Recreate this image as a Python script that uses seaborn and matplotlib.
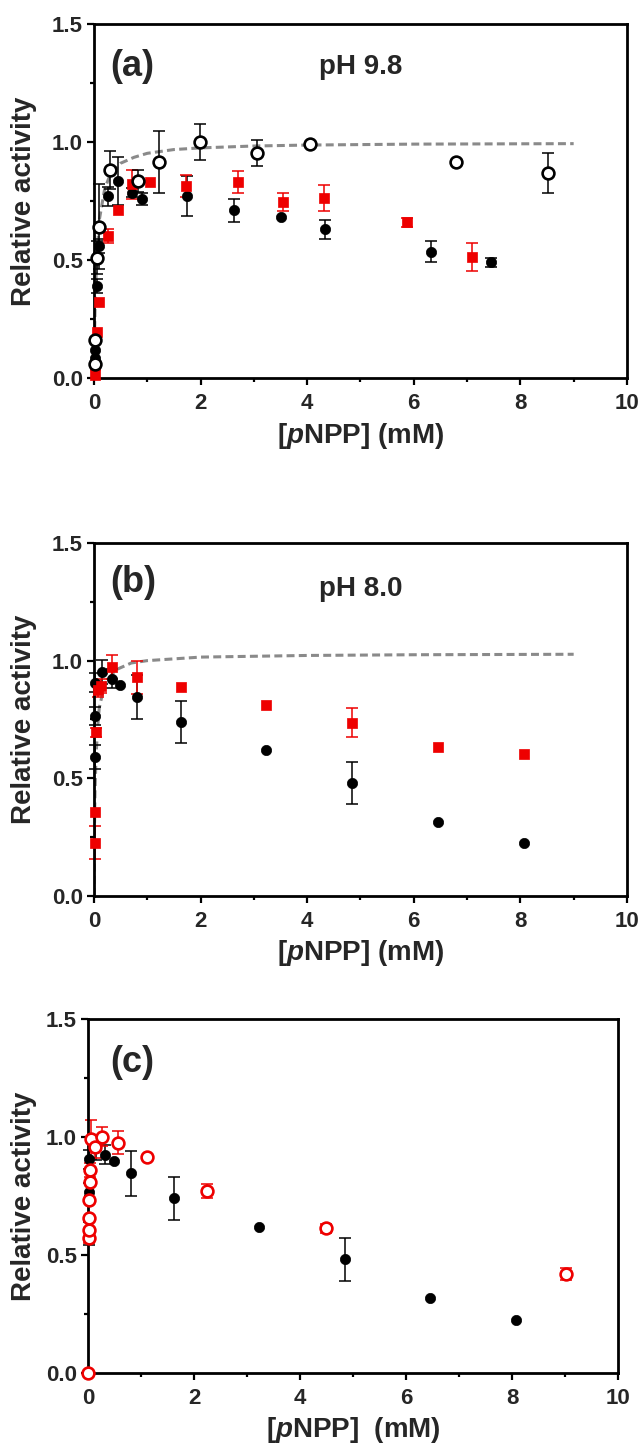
import numpy as np
import matplotlib
matplotlib.use("Agg")
import matplotlib.pyplot as plt
from matplotlib.ticker import MultipleLocator
import seaborn as sns

# panel (a), pH 9.8
a_open_x = [0.01, 0.01, 0.05, 0.10, 0.31, 0.82, 1.22, 1.98, 3.06, 4.05, 6.79, 8.52]
a_open_y = [0.06, 0.16, 0.51, 0.64, 0.88, 0.835, 0.915, 1.0, 0.955, 0.99, 0.915, 0.868]
a_open_err = [0, 0, 0.07, 0.18, 0.08, 0.045, 0.13, 0.075, 0.055, 0, 0, 0.086]

a_fill_x = [0.01, 0.01, 0.06, 0.09, 0.27, 0.45, 0.71, 0.90, 1.75, 2.62, 3.50, 4.33, 6.32, 7.45]
a_fill_y = [0.085, 0.118, 0.39, 0.56, 0.77, 0.835, 0.786, 0.76, 0.772, 0.71, 0.684, 0.63, 0.536, 0.49]
a_fill_err = [0, 0, 0.03, 0.03, 0.04, 0.1, 0.02, 0.025, 0.085, 0.05, 0, 0.04, 0.045, 0.02]

a_sq_x = [0.01, 0.01, 0.05, 0.09, 0.27, 0.45, 0.71, 1.06, 1.73, 2.71, 3.54, 4.31, 5.88, 7.09]
a_sq_y = [0.013, 0.055, 0.196, 0.323, 0.60, 0.713, 0.82, 0.832, 0.814, 0.83, 0.745, 0.762, 0.659, 0.512]
a_sq_err = [0, 0, 0, 0, 0.03, 0, 0.06, 0, 0.045, 0.047, 0.038, 0.055, 0.02, 0.06]

fit_a_x = [0, 0.01, 0.02, 0.05, 0.1, 0.2, 0.3, 0.5, 0.75, 1, 1.5, 2, 3, 4, 6, 9]
fit_a_y = [0, 0.17, 0.29, 0.5, 0.67, 0.8, 0.86, 0.91, 0.935, 0.952, 0.968, 0.975, 0.983, 0.987, 0.991, 0.993]

# panel (b), pH 8.0 (black circles also shown in panel c)
b_fill_x = [0.01, 0.01, 0.01, 0.16, 0.33, 0.49, 0.81, 1.63, 3.23, 4.85, 6.46, 8.07]
b_fill_y = [0.59, 0.765, 0.906, 0.952, 0.924, 0.896, 0.846, 0.74, 0.62, 0.481, 0.316, 0.226]
b_fill_err = [0.05, 0.04, 0.04, 0.05, 0.04, 0, 0.095, 0.09, 0, 0.09, 0, 0]

b_sq_x = [0.01, 0.02, 0.03, 0.07, 0.14, 0.34, 0.81, 1.63, 3.23, 4.85, 6.46, 8.07]
b_sq_y = [0.226, 0.355, 0.695, 0.875, 0.893, 0.974, 0.929, 0.889, 0.811, 0.737, 0.634, 0.603]
b_sq_err = [0.07, 0, 0.02, 0.03, 0.03, 0.05, 0.07, 0, 0, 0.06, 0, 0]

fit_b_x = [0, 0.005, 0.01, 0.02, 0.04, 0.07, 0.1, 0.2, 0.4, 0.7, 1, 2, 4, 6, 9]
fit_b_y = [0, 0.15, 0.3, 0.45, 0.6, 0.72, 0.8, 0.9, 0.96, 0.99, 1.0, 1.015, 1.022, 1.025, 1.027]

# panel (c), red open circles
c_open_x = [0.0, 0.01, 0.01, 0.02, 0.02, 0.03, 0.04, 0.06, 0.13, 0.27, 0.56, 1.12, 2.24, 4.5, 9.01]
c_open_y = [0.0, 0.571, 0.606, 0.655, 0.733, 0.808, 0.86, 0.99, 0.959, 1.0, 0.976, 0.917, 0.771, 0.613, 0.42]
c_open_err = [0, 0.02, 0, 0, 0, 0, 0.03, 0.08, 0.05, 0.04, 0.05, 0, 0.03, 0.02, 0.025]

RED = "#ee0000"
GREY = "#8a8a8a"

sns.set_theme(style="ticks")
plt.rcParams["font.family"] = ["Liberation Sans", "DejaVu Sans"]
plt.rcParams["font.weight"] = "bold"
plt.rcParams["mathtext.fontset"] = "custom"
plt.rcParams["mathtext.it"] = "Liberation Sans:italic:bold"
plt.rcParams["mathtext.rm"] = "Liberation Sans:bold"


def err(ax, x, y, e, color):
    x, y, e = np.array(x), np.array(y), np.array(e)
    m = e > 0
    ax.errorbar(x[m], y[m], yerr=e[m], fmt="none", ecolor=color, elinewidth=1.1,
                capsize=4, capthick=1.1, zorder=2, clip_on=False)


def fit_line(ax, x, y):
    sns.lineplot(x=x, y=y, ax=ax, color=GREY, linewidth=2.2, sort=False,
                 estimator=None, zorder=1)
    ax.lines[-1].set_dashes([2.6, 1.4])


def filled(ax, x, y, e):
    err(ax, x, y, e, "black")
    sns.scatterplot(x=x, y=y, ax=ax, marker="o", s=55, color="black",
                    edgecolor="black", linewidth=0.5, zorder=3, clip_on=False)


def squares(ax, x, y, e):
    err(ax, x, y, e, RED)
    sns.scatterplot(x=x, y=y, ax=ax, marker="s", s=55, color=RED,
                    edgecolor=RED, linewidth=0.5, zorder=4, clip_on=False)


def hollow(ax, x, y, e, color):
    err(ax, x, y, e, color)
    sns.scatterplot(x=x, y=y, ax=ax, marker="o", s=72, color="white",
                    edgecolor=color, linewidth=1.9, zorder=5, clip_on=False)


def style(ax, xlabel, ylab_x):
    ax.set_xlim(0, 10)
    ax.set_ylim(0, 1.5)
    ax.xaxis.set_major_locator(MultipleLocator(2))
    ax.xaxis.set_minor_locator(MultipleLocator(1))
    ax.yaxis.set_major_locator(MultipleLocator(0.5))
    ax.yaxis.set_minor_locator(MultipleLocator(0.25))
    ax.yaxis.set_major_formatter(matplotlib.ticker.FormatStrFormatter("%.1f"))
    for s in ax.spines.values():
        s.set_linewidth(2)
        s.set_color("black")
    ax.tick_params(which="both", direction="out", width=1.6, color="black",
                   top=False, right=False, labelsize=16)
    ax.tick_params(which="major", length=5)
    ax.tick_params(which="minor", length=3)
    ax.tick_params(axis="x", pad=6)
    ax.tick_params(axis="y", pad=3)
    for lab in ax.get_xticklabels() + ax.get_yticklabels():
        lab.set_fontweight("bold")
    ax.set_xlabel(xlabel, fontsize=20, fontweight="bold")
    ax.set_ylabel("Relative activity", fontsize=20, fontweight="bold")
    ax.xaxis.set_label_coords(0.5, -0.12)
    ax.yaxis.set_label_coords(ylab_x, 0.5)
    ax.set_facecolor("white")


fig = plt.figure(figsize=(6.41, 14.44), dpi=100)
ax_a = fig.add_axes([0.1466, 0.7382, 0.8315, 0.2452])
ax_b = fig.add_axes([0.1466, 0.3795, 0.8315, 0.2445])
ax_c = fig.add_axes([0.1373, 0.0492, 0.8268, 0.2452])

# (a)
fit_line(ax_a, fit_a_x, fit_a_y)
filled(ax_a, a_fill_x, a_fill_y, a_fill_err)
squares(ax_a, a_sq_x, a_sq_y, a_sq_err)
hollow(ax_a, a_open_x, a_open_y, a_open_err, "black")
style(ax_a, r"[$p$NPP] (mM)", -0.107)
ax_a.text(0.03, 0.88, "(a)", transform=ax_a.transAxes, fontsize=26,
          fontweight="bold", ha="left", va="center")
ax_a.text(0.50, 0.878, "pH 9.8", transform=ax_a.transAxes, fontsize=20,
          fontweight="bold", ha="center", va="center")

# (b)
fit_line(ax_b, fit_b_x, fit_b_y)
filled(ax_b, b_fill_x, b_fill_y, b_fill_err)
squares(ax_b, b_sq_x, b_sq_y, b_sq_err)
style(ax_b, r"[$p$NPP] (mM)", -0.107)
ax_b.text(0.03, 0.887, "(b)", transform=ax_b.transAxes, fontsize=26,
          fontweight="bold", ha="left", va="center")
ax_b.text(0.50, 0.87, "pH 8.0", transform=ax_b.transAxes, fontsize=20,
          fontweight="bold", ha="center", va="center")

# (c)
filled(ax_c, b_fill_x, b_fill_y, b_fill_err)
hollow(ax_c, c_open_x, c_open_y, c_open_err, RED)
style(ax_c, r"[$p$NPP]  (mM)", -0.096)
ax_c.text(0.042, 0.878, "(c)", transform=ax_c.transAxes, fontsize=26,
          fontweight="bold", ha="left", va="center")

fig.savefig("out.png", dpi=100, facecolor="white")
